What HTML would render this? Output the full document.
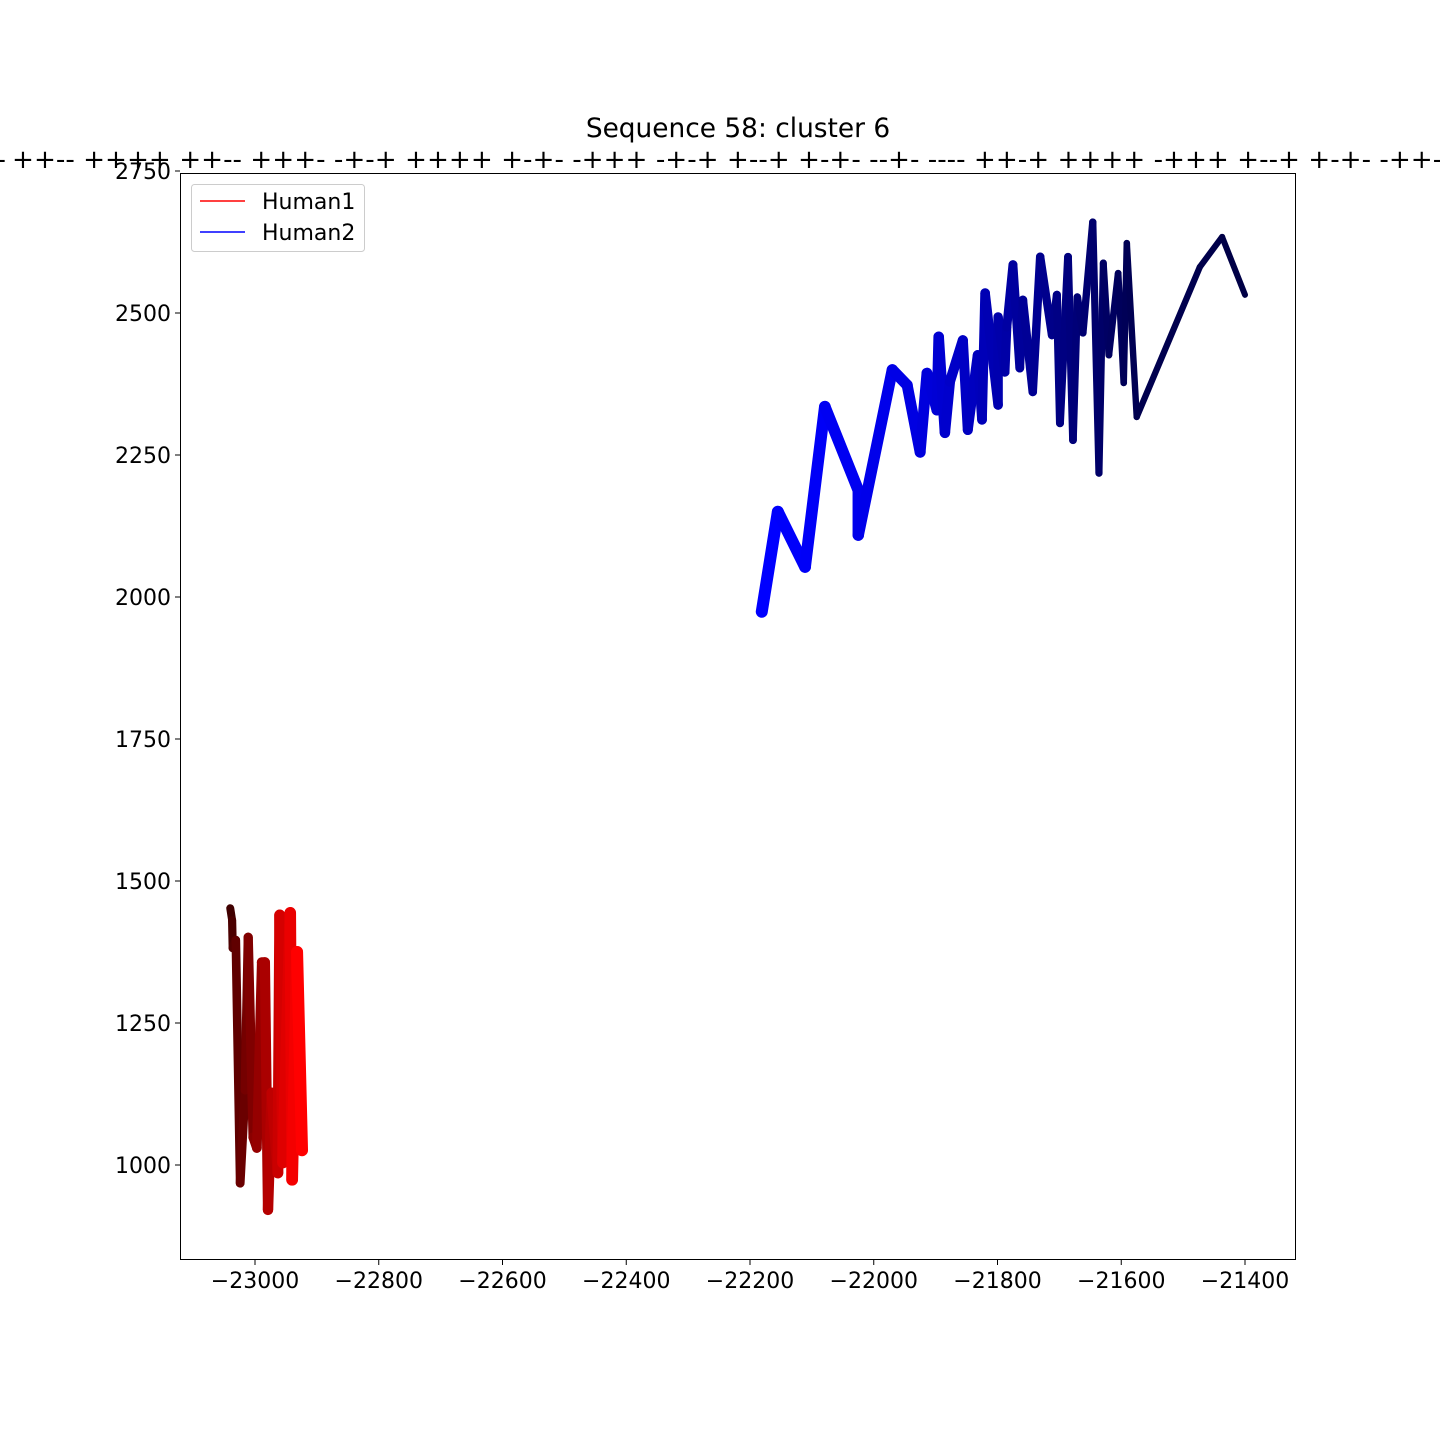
<!DOCTYPE html>
<html><head><meta charset="utf-8"><style>
html,body{margin:0;padding:0;background:#fff;}
svg{display:block;font-family:"DejaVu Sans","Liberation Sans",sans-serif;}
</style></head><body>
<svg id="chart" width="1440" height="1440" viewBox="0 0 1440 1440" xmlns="http://www.w3.org/2000/svg">
<rect width="1440" height="1440" fill="#fff"/>
<text x="738" y="137" font-size="26.4" text-anchor="middle">Sequence 58: cluster 6</text>
<text x="6" y="168" font-size="26.2" text-anchor="end">+--+ -</text>
<text x="12" y="168" font-size="26.2" xml:space="preserve">++-- ++++ ++-- +++- -+-+ ++++ +-+- -+++ -+-+ +--+ +-+- --+- ---- ++-+ ++++ -+++ +--+ +-+- -++-</text>
<g id="plot"></g>
<g id="axes"></g>
<g>
<rect x="191.5" y="184.5" width="173" height="67" rx="3" fill="#fff" fill-opacity="0.8" stroke="#ccc"/>
<g>
<line x1="200" y1="201" x2="245" y2="201" stroke="#ff0000" stroke-width="1.5"/>
<text x="262" y="209" font-size="22">Human1</text></g>
<g>
<line x1="200" y1="232" x2="245" y2="232" stroke="#0000ff" stroke-width="1.5"/>
<text x="262" y="240" font-size="22">Human2</text></g>
</g>
</svg>
<script>
const xTicks = [-23000,-22800,-22600,-22400,-22200,-22000,-21800,-21600,-21400];
const yTicks = [1000,1250,1500,1750,2000,2250,2500,2750];
const human1X = [-23040,-23037,-23036,-23031,-23024,-23016,-23011,-23003,-22997,-22989,-22984,-22979,-22973,-22963,-22960,-22955,-22943,-22940,-22932,-22924];
const human1Y = [1452,1431,1382,1396,968,1132,1401,1049,1030,1357,1357,921,1127,986,1440,1004,1444,974,1375,1026];
const human2X = [-22181,-22155,-22111,-22079,-22025,-22025,-21970,-21946,-21925,-21914,-21898,-21895,-21885,-21877,-21856,-21848,-21832,-21825,-21820,-21799,-21799,-21788,-21785,-21775,-21764,-21759,-21743,-21731,-21712,-21704,-21699,-21686,-21678,-21671,-21662,-21646,-21636,-21629,-21620,-21605,-21596,-21591,-21575,-21473,-21437,-21400];
const human2Y = [1974,2150,2053,2335,2188,2109,2400,2373,2255,2394,2329,2458,2289,2379,2452,2294,2426,2312,2535,2338,2493,2396,2475,2585,2403,2523,2361,2599,2461,2532,2306,2599,2276,2528,2465,2660,2218,2588,2426,2570,2377,2623,2317,2581,2634,2532];

const L=180,R=1296,T=173,B=1260;
const X0=-23000,XS=123.75/200;
const sx = v => 255 + (v - X0)*XS;
const sy = v => 1165 - (v - 1000)*142/250;
const NS='http://www.w3.org/2000/svg';
const plot=document.getElementById('plot'), axes=document.getElementById('axes');
function mk(tag,attrs,parent){const e=document.createElementNS(NS,tag);for(const k in attrs)e.setAttribute(k,attrs[k]);parent.appendChild(e);return e;}

function drawSeries(xs,ys,c0,c1,w0,w1,name){
  const g=mk('g',{},plot);
  
  
  const n=xs.length-1;
  for(let i=0;i<n;i++){
    const t=i/(n-1||1);
    const c=c0.map((a,k)=>Math.round(a+(c1[k]-a)*t));
    const s=mk('line',{x1:sx(xs[i]),y1:sy(ys[i]),x2:sx(xs[i+1]),y2:sy(ys[i+1]),stroke:`rgb(${c.join(',')})`,'stroke-width':w0+(w1-w0)*t,'stroke-linecap':'round'},g);
    
    
  }
}
drawSeries(human1X,human1Y,[64,0,0],[255,0,0],8,12,'human1-line');
drawSeries(human2X,human2Y,[0,0,255],[0,0,70],12,6,'human2-line');

const frame=mk('rect',{x:L+0.5,y:T+0.5,width:R-L-1,height:B-T-1,fill:'none',stroke:'#000','stroke-width':1},axes);


xTicks.forEach(v=>{
  const x=sx(v);
  const tk=mk('line',{x1:x,y1:B,x2:x,y2:B+5,stroke:'#000'},axes);
  
  
  const t=mk('text',{x:x,y:B+28,'font-size':22,'text-anchor':'middle'},axes);
  t.textContent=String(v).replace('-','\u2212');
  
  
});
yTicks.forEach(v=>{
  const y=sy(v);
  const tk=mk('line',{x1:L-5,y1:y,x2:L,y2:y,stroke:'#000'},axes);
  
  
  const t=mk('text',{x:L-9,y:y+8,'font-size':22,'text-anchor':'end'},axes);
  t.textContent=String(v);
  
  
});
</script>
</body></html>
